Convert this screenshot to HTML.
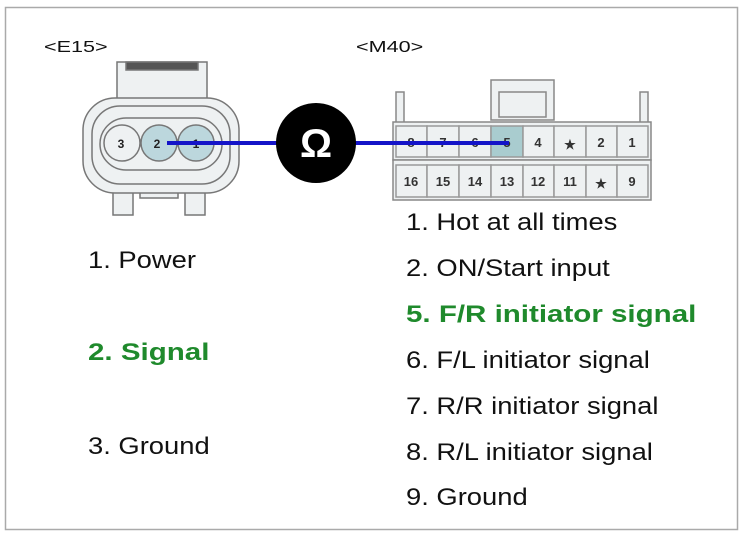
<!DOCTYPE html>
<html><head><style>
body{margin:0;width:744px;height:537px;background:#fff;font-family:"Liberation Sans",sans-serif;position:relative;overflow:hidden}
.t{position:absolute;font-size:24px;color:#111;white-space:nowrap;line-height:1;transform:scaleX(1.14);transform-origin:0 0}
.g{color:#1f8a2c;font-weight:bold;transform:scaleX(1.23)}
</style></head><body>
<svg width="744" height="537" style="position:absolute;left:0;top:0">
<rect x="5.5" y="7.5" width="732" height="522" fill="none" stroke="#aaa" stroke-width="1.5"/>
<g font-family="Liberation Sans" font-size="16" fill="#111">
<text x="44" y="52" transform="translate(44 0) scale(1.35 1) translate(-44 0)">&lt;E15&gt;</text>
<text x="356" y="52" transform="translate(356 0) scale(1.35 1) translate(-356 0)">&lt;M40&gt;</text>
</g>
<g stroke="#777" stroke-width="1.5" fill="#eef1f2">
<rect x="117" y="62" width="90" height="40"/>
<rect x="126" y="62" width="72" height="8" fill="#555"/>
<rect x="113" y="190" width="20" height="25"/>
<rect x="185" y="190" width="20" height="25"/>
<rect x="140" y="190" width="38" height="8"/>
<rect x="83" y="98" width="156" height="95" rx="32"/>
<rect x="92" y="106" width="138" height="78" rx="28"/>
<rect x="100" y="118" width="122" height="52" rx="26"/>
<circle cx="122" cy="143" r="18" fill="#eef1f2"/>
<circle cx="159" cy="143" r="18" fill="#bcd7dd"/>
<circle cx="196" cy="143" r="18" fill="#bcd7dd"/>
</g>
<g font-family="Liberation Sans" font-size="12" font-weight="bold" fill="#222" text-anchor="middle">
<text x="121" y="148">3</text><text x="157" y="148">2</text><text x="196" y="148">1</text>
</g>
<g stroke="#888" stroke-width="1.5" fill="#eef1f2">
<rect x="396" y="92" width="8" height="34"/>
<rect x="640" y="92" width="8" height="34"/>
<rect x="491" y="80" width="63" height="40"/>
<rect x="499" y="92" width="47" height="25"/>
<rect x="393" y="122" width="258" height="38"/>
<rect x="393" y="160" width="258" height="40"/>
</g>
<g stroke="#999" stroke-width="1.5" fill="#eef1f2">
<rect x="396" y="126" width="31" height="31"/><rect x="427" y="126" width="32" height="31"/><rect x="459" y="126" width="32" height="31"/>
<rect x="491" y="126" width="32" height="31" fill="#a9cccf"/><rect x="523" y="126" width="31" height="31"/><rect x="554" y="126" width="32" height="31"/><rect x="586" y="126" width="31" height="31"/><rect x="617" y="126" width="31" height="31"/>
<rect x="396" y="165" width="31" height="32"/><rect x="427" y="165" width="32" height="32"/><rect x="459" y="165" width="32" height="32"/><rect x="491" y="165" width="32" height="32"/><rect x="523" y="165" width="31" height="32"/><rect x="554" y="165" width="32" height="32"/><rect x="586" y="165" width="31" height="32"/><rect x="617" y="165" width="31" height="32"/>
</g>
<g font-family="Liberation Sans" font-size="13" font-weight="bold" fill="#333" text-anchor="middle">
<text x="411" y="147">8</text><text x="443" y="147">7</text><text x="475" y="147">6</text><text x="507" y="147">5</text><text x="538" y="147">4</text><text x="570" y="149">★</text><text x="601" y="147">2</text><text x="632" y="147">1</text>
<text x="411" y="186">16</text><text x="443" y="186">15</text><text x="475" y="186">14</text><text x="507" y="186">13</text><text x="538" y="186">12</text><text x="570" y="186">11</text><text x="601" y="188">★</text><text x="632" y="186">9</text>
</g>
<line x1="167" y1="143" x2="509" y2="143" stroke="#1414c8" stroke-width="4"/>
<circle cx="316" cy="143" r="40" fill="#000"/>
<text x="316" y="157" font-family="Liberation Sans" font-size="40" font-weight="bold" fill="#fff" text-anchor="middle">Ω</text>
</svg>
<div class="t" style="left:88px;top:249px">1. Power</div>
<div class="t g" style="left:88px;top:341px">2. Signal</div>
<div class="t" style="left:88px;top:435px">3. Ground</div>
<div class="t" style="left:406px;top:211px">1. Hot at all times</div>
<div class="t" style="left:406px;top:257px">2. ON/Start input</div>
<div class="t g" style="left:406px;top:303px">5. F/R initiator signal</div>
<div class="t" style="left:406px;top:349px">6. F/L initiator signal</div>
<div class="t" style="left:406px;top:395px">7. R/R initiator signal</div>
<div class="t" style="left:406px;top:441px">8. R/L initiator signal</div>
<div class="t" style="left:406px;top:486px">9. Ground</div>
</body></html>
